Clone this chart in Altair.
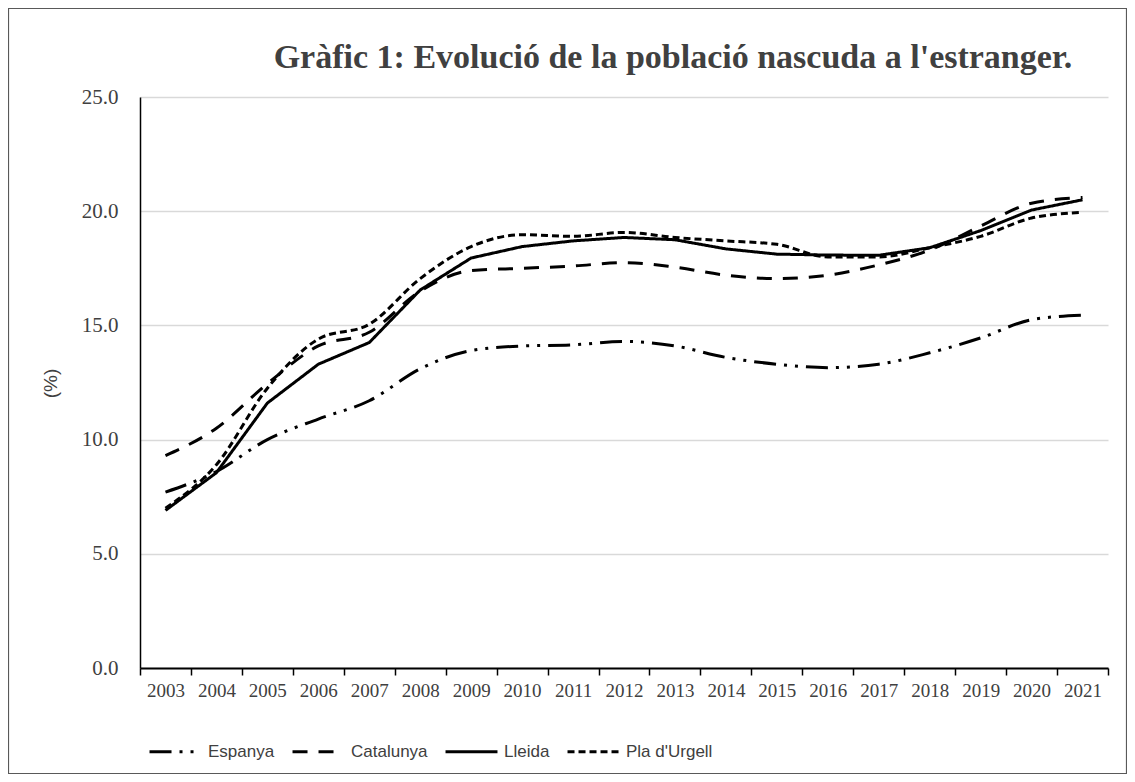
import altair as alt
import pandas as pd

years = [str(y) for y in range(2003, 2022)]
series_names = ["Espanya", "Catalunya", "Lleida", "Pla d'Urgell"]
espanya = [7.7, 8.6, 10.0, 10.9, 11.7, 13.1, 13.9, 14.1, 14.15, 14.3, 14.1, 13.6, 13.3, 13.15, 13.3, 13.8, 14.45, 15.25, 15.45]
catalunya = [9.3, 10.5, 12.45, 14.1, 14.7, 16.5, 17.4, 17.5, 17.6, 17.75, 17.55, 17.2, 17.05, 17.2, 17.65, 18.3, 19.35, 20.35, 20.6]
lleida = [6.9, 8.55, 11.6, 13.3, 14.25, 16.55, 17.95, 18.45, 18.7, 18.85, 18.75, 18.35, 18.12, 18.08, 18.07, 18.4, 19.15, 20.05, 20.5]
pla = [7.0, 8.9, 12.25, 14.4, 15.05, 17.05, 18.45, 18.97, 18.9, 19.07, 18.85, 18.7, 18.55, 18.0, 18.0, 18.4, 18.9, 19.7, 19.95]
y_ticks = [0, 5, 10, 15, 20, 25]

rows = []
for name, vals in zip(series_names, [espanya, catalunya, lleida, pla]):
    for yr, v in zip(years, vals):
        rows.append({"year": yr, "serie": name, "value": v})
df = pd.DataFrame(rows)

dashes = [[22, 8, 3, 8, 3, 8], [15, 11], [1, 0], [7, 4]]

W, H = 968, 571

base = alt.Chart(df).encode(
    x=alt.X(
        "year:O",
        bandPosition=0.5,
        scale=alt.Scale(type="band", paddingInner=0, paddingOuter=0),
        axis=alt.Axis(
            title=None,
            labelAngle=0,
            tickBand="extent",
            labelFont="Liberation Serif",
            labelFontSize=19,
            labelColor="#404040",
            labelPadding=6,
            domainColor="#000000",
            domainWidth=2,
            tickColor="#000000",
            tickWidth=1.5,
            tickSize=7,
            grid=False,
        ),
    ),
    y=alt.Y(
        "value:Q",
        scale=alt.Scale(domain=[0, 25], nice=False, zero=True),
        axis=alt.Axis(
            title="(%)",
            values=y_ticks,
            format=".1f",
            labelFont="Liberation Serif",
            labelFontSize=21,
            labelColor="#404040",
            labelPadding=22,
            ticks=False,
            domainColor="#000000",
            domainWidth=1.5,
            gridColor="#d9d9d9",
            gridWidth=1.5,
            titleFont="Liberation Sans",
            titleFontSize=19,
            titleFontWeight="normal",
            titleColor="#404040",
            titleX=-90,
            titleY=286,
            titleAngle=270,
            titleAlign="center",
            titleBaseline="middle",
        ),
    ),
    strokeDash=alt.StrokeDash(
        "serie:N",
        scale=alt.Scale(domain=series_names, range=dashes),
        sort=series_names,
        legend=alt.Legend(
            title=None,
            orient="none",
            direction="horizontal",
            legendX=8,
            legendY=627,
            symbolType="stroke",
            symbolSize=2700,
            symbolStrokeWidth=3,
            symbolStrokeColor="#000000",
            labelFont="Liberation Sans",
            labelFontSize=17,
            labelColor="#404040",
            labelOffset=5,
            columnPadding=11,
        ),
    ),
)

smooth = base.transform_filter(alt.datum.serie != "Lleida").mark_line(
    interpolate="monotone", color="#000000", strokeWidth=3
)
straight = base.transform_filter(alt.datum.serie == "Lleida").mark_line(
    color="#000000", strokeWidth=3
)

frame = alt.Chart(alt.Data(values=[{}])).mark_rect(
    filled=False, stroke="#595959", strokeWidth=1.2, clip=False
).encode(
    x=alt.value(-131.5),
    x2=alt.value(W + 18.5),
    y=alt.value(-88.5),
    y2=alt.value(H + 105.5),
)

chart = alt.layer(frame, smooth, straight).properties(
    width=W,
    height=H,
    autosize=alt.AutoSizeParams(type="none"),
    padding={"left": 132, "top": 89, "right": 19, "bottom": 106},
    title=alt.TitleParams(
        "Gràfic 1: Evolució de la població nascuda a l'estranger.",
        font="Liberation Serif",
        fontSize=34,
        fontWeight="bold",
        color="#404040",
        anchor="middle",
        dx=49,
        dy=91,
        offset=24,
    ),
).configure_view(stroke=None)

chart.save("out.html", embed_options={"renderer": "svg", "actions": False})
